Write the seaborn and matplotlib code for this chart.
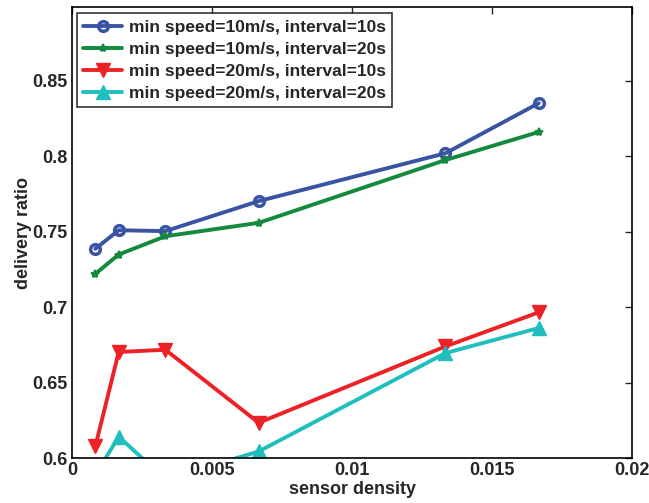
import pandas as pd
import seaborn as sns
import matplotlib.pyplot as plt

# sensor density (x) shared by all curves
density = [1 / 1200, 1 / 600, 1 / 300, 1 / 150, 1 / 75, 1 / 60]

# delivery ratio per configuration
speed10_int10 = [0.7388, 0.7511, 0.7505, 0.7704, 0.8021, 0.8353]
speed10_int20 = [0.7222, 0.7350, 0.7471, 0.7560, 0.7976, 0.8162]
speed20_int10 = [0.6080, 0.6704, 0.6719, 0.6235, 0.6741, 0.6967]
speed20_int20 = [0.5890, 0.6143, 0.5860, 0.6045, 0.6697, 0.6863]

labels = ['min speed=10m/s, interval=10s',
          'min speed=10m/s, interval=20s',
          'min speed=20m/s, interval=10s',
          'min speed=20m/s, interval=20s']

x_ticks = [0, 0.005, 0.01, 0.015, 0.02]
x_tick_labels = ['0', '0.005', '0.01', '0.015', '0.02']
y_ticks = [0.6, 0.65, 0.7, 0.75, 0.8, 0.85]
y_tick_labels = ['0.6', '0.65', '0.7', '0.75', '0.8', '0.85']

sns.set_style('white')
plt.rcParams['font.family'] = ['Liberation Sans', 'DejaVu Sans']
plt.rcParams['font.weight'] = 'bold'

fig = plt.figure(figsize=(6.49, 5.03), dpi=100)
ax = fig.add_axes([0.111, 0.089, 0.863, 0.897])

series = [speed10_int10, speed10_int20, speed20_int10, speed20_int20]
colors = ['#3a54a4', '#138a3e', '#ed2227', '#1fbfbf']
marker_kws = [
    dict(marker='o', markersize=7, markerfacecolor='none', markeredgewidth=2.5),
    dict(marker='*', markersize=6, markeredgewidth=1.5),
    dict(marker='v', markersize=9.5, markeredgewidth=1),
    dict(marker='^', markersize=9.5, markeredgewidth=1),
]

for vals, lab, col, mk in zip(series, labels, colors, marker_kws):
    df = pd.DataFrame({'density': density, 'ratio': vals})
    sns.lineplot(data=df, x='density', y='ratio', ax=ax, color=col, label=lab,
                 linewidth=2.8, markeredgecolor=col, **mk)

ax.set_xlim(0, 0.02)
ax.set_ylim(0.6, 0.899)
ax.set_xticks(x_ticks)
ax.set_xticklabels(x_tick_labels)
ax.set_yticks(y_ticks)
ax.set_yticklabels(y_tick_labels)
ax.tick_params(direction='in', top=True, right=True, length=5, width=1,
               labelsize=13, pad=3)
for s in ax.spines.values():
    s.set_linewidth(1.2)
    s.set_color('black')

ax.set_xlabel('sensor density', fontsize=13, fontweight='bold', labelpad=1)
ax.set_ylabel('delivery ratio', fontsize=13, fontweight='bold', labelpad=0.5)

leg = ax.legend(loc='upper left', bbox_to_anchor=(0.0095, 0.986), borderaxespad=0,
                fontsize=12.5, handlelength=2.2, labelspacing=0.4, frameon=True,
                fancybox=False, edgecolor='black', borderpad=0.35, handletextpad=0.4)
leg.get_frame().set_linewidth(1.2)
for t in leg.get_texts():
    t.set_fontweight('bold')

fig.savefig('out.png', dpi=100)
